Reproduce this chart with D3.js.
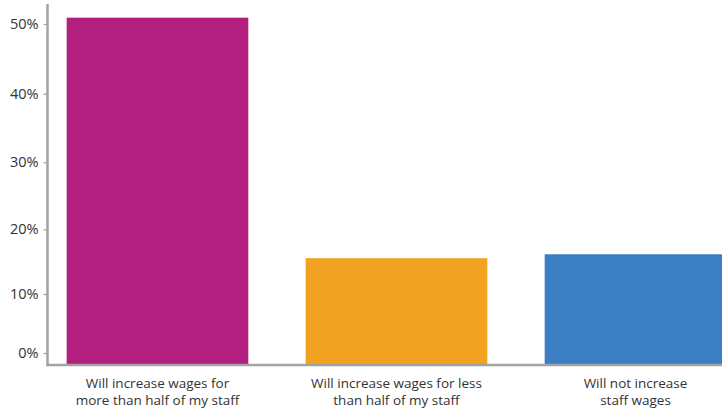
<!DOCTYPE html>
<html>
<head>
<meta charset="utf-8">
<script src="https://cdn.jsdelivr.net/npm/d3@7"></script>
<style>
	html, body { margin: 0; padding: 0; background: #FFF; }
	svg { display: block; }
	text { font-family: "Open Sans", "Noto Sans", sans-serif; fill: #333; }
</style>
</head>
<body>
<div id="chart"></div>
<script>

// chart data
const categories = [
	["Will increase wages for", "more than half of my staff"],
	["Will increase wages for less", "than half of my staff"],
	["Will not increase", "staff wages"]
];
const shares = [50.9, 15.6, 16.2];
const barColors = ["#B21F7E", "#F1A220", "#3B7EC1"];
const tickValues = [0, 10, 20, 30, 40, 50];

const frame = {
	width : 722,
	height : 409,
	axisX : 47.5,
	axisTop : 4,
	baseY : 365
};

let svg = d3.select("#chart")
	.append("svg")
	.attr("width", frame.width)
	.attr("height", frame.height);

// the picture's tick spacing grows slightly with the value, a pow scale follows it
let y = d3.scalePow()
	.exponent(1.068)
	.domain([0, 50])
	.range([353, 24]);

let x = d3.scaleBand()
	.domain(d3.range(categories.length))
	.range([38, 755])
	.paddingInner(0.24)
	.paddingOuter(0.12);

svg.selectAll("rect.bar")
	.data(shares)
	.enter()
	.append("rect")
	.attr("class", "bar")
	.attr("x", (d, i) => x(i))
	.attr("width", x.bandwidth())
	.attr("y", d => y(d))
	.attr("height", d => frame.baseY - y(d))
	.attr("fill", (d, i) => barColors[i]);

// y axis
let yAxis = d3.axisLeft(y)
	.tickValues(tickValues)
	.tickSize(4)
	.tickPadding(5)
	.tickFormat(d => d + "%");

let yg = svg.append("g")
	.attr("transform", `translate(${frame.axisX},0)`)
	.call(yAxis);

yg.select(".domain").remove();
yg.selectAll(".tick line")
	.attr("stroke", "#A3A3A6")
	.attr("stroke-width", 1.2);
yg.selectAll(".tick text")
	.style("font-size", "14.5px")
	.attr("fill", "#333");

svg.append("line")
	.attr("x1", frame.axisX)
	.attr("x2", frame.axisX)
	.attr("y1", frame.axisTop)
	.attr("y2", frame.baseY + 1.2)
	.attr("stroke", "#A3A3A6")
	.attr("stroke-width", 2.5);

svg.append("line")
	.attr("x1", frame.axisX - 1.2)
	.attr("x2", frame.width)
	.attr("y1", frame.baseY)
	.attr("y2", frame.baseY)
	.attr("stroke", "#A3A3A6")
	.attr("stroke-width", 2.5);

// category labels, two lines each
let labels = svg.selectAll("text.cat")
	.data(categories)
	.enter()
	.append("text")
	.attr("class", "cat")
	.attr("text-anchor", "middle")
	.style("font-size", "13.5px");

labels.selectAll("tspan")
	.data((d, i) => d.map(line => ({line : line, i : i})))
	.enter()
	.append("tspan")
	.attr("x", d => x(d.i) + x.bandwidth() / 2)
	.attr("y", (d, j) => 387.5 + j * 17.5)
	.text(d => d.line);

</script>
</body>
</html>
